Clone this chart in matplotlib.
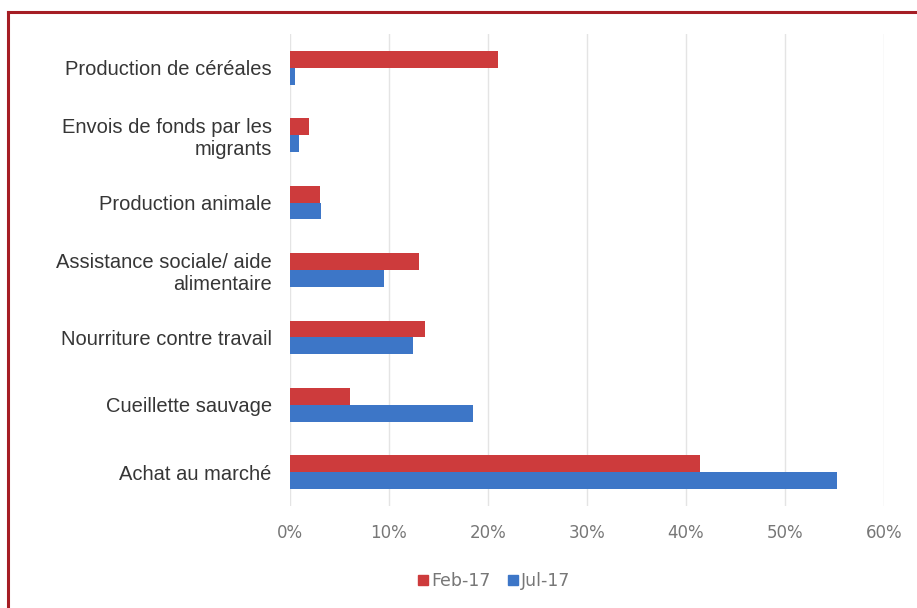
import numpy as np
import matplotlib
matplotlib.use("Agg")
import matplotlib.pyplot as plt
from matplotlib.lines import Line2D
from matplotlib.ticker import FuncFormatter

categories = [
    "Production de céréales",
    "Envois de fonds par les\nmigrants",
    "Production animale",
    "Assistance sociale/ aide\nalimentaire",
    "Nourriture contre travail",
    "Cueillette sauvage",
    "Achat au marché",
]
feb17 = [21.0, 1.9, 3.1, 13.0, 13.7, 6.1, 41.4]
jul17 = [0.5, 0.9, 3.2, 9.5, 12.4, 18.5, 55.3]
series_names = ["Feb-17", "Jul-17"]

RED = "#cd3b3c"
BLUE = "#3d76c7"
FRAME = "#a51d24"

fig = plt.figure(figsize=(9.17, 6.08), dpi=100)
ax = fig.add_axes([0.316, 0.168, 0.648, 0.776])

y = np.arange(len(categories))
h = 0.25
ax.barh(y - h / 2, feb17, height=h, color=RED, label=series_names[0], zorder=3)
ax.barh(y + h / 2, jul17, height=h, color=BLUE, label=series_names[1], zorder=3)

ax.set_ylim(len(categories) - 0.5, -0.5)
ax.set_yticks(y)
ax.set_yticklabels(categories, fontsize=14.5, color="#363636", family="Liberation Sans",
                   ha="right", multialignment="right")
ax.tick_params(axis="y", length=0, pad=13)

ax.set_xlim(0, 60)
ax.set_xticks(np.arange(0, 61, 10))
ax.xaxis.set_major_formatter(FuncFormatter(lambda v, p: f"{v:.0f}%"))
ax.tick_params(axis="x", length=0, pad=13, labelsize=12, labelcolor="#777777")
ax.grid(axis="x", color="#e4e4e4", lw=1, zorder=0)
for s in ax.spines.values():
    s.set_visible(False)

handles = [Line2D([], [], marker="s", ls="", color=RED, ms=7),
           Line2D([], [], marker="s", ls="", color=BLUE, ms=7)]
leg = fig.legend(handles, series_names, loc="center", bbox_to_anchor=(0.538, 0.044),
                 ncol=2, frameon=False, fontsize=12.5, handletextpad=0.05,
                 columnspacing=0.9, handlelength=0.8)
for t in leg.get_texts():
    t.set_color("#777777")

# red frame (top and left edges only)
fig.add_artist(Line2D([8 / 917, 1], [1 - 12 / 608, 1 - 12 / 608],
                      transform=fig.transFigure, color=FRAME, lw=2.2))
fig.add_artist(Line2D([8 / 917, 8 / 917], [0, 1 - 12 / 608],
                      transform=fig.transFigure, color=FRAME, lw=2.2))

fig.savefig("out.png", dpi=100)
